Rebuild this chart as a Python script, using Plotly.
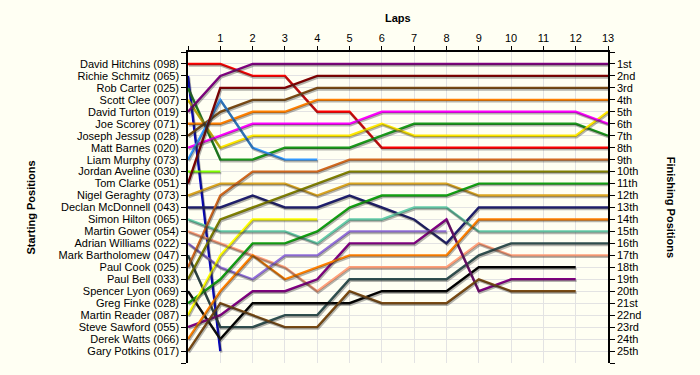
import plotly.graph_objects as go

laps = list(range(0, 14))
lap_ticks = list(range(0, 14))
lap_tick_text = [""] + [str(i) for i in range(1, 14)]

drivers = ["David Hitchins (098)", "Richie Schmitz (065)", "Rob Carter (025)", "Scott Clee (007)",
           "David Turton (019)", "Joe Scorey (071)", "Joseph Jessup (028)", "Matt Barnes (020)",
           "Liam Murphy (073)", "Jordan Aveline (030)", "Tom Clarke (051)", "Nigel Geraghty (073)",
           "Declan McDonnell (043)", "Simon Hilton (065)", "Martin Gower (054)", "Adrian Williams (022)",
           "Mark Bartholomew (047)", "Paul Cook (025)", "Paul Bell (033)", "Spencer Lyon (069)",
           "Greg Finke (028)", "Martin Reader (087)", "Steve Sawford (055)", "Derek Watts (066)",
           "Gary Potkins (017)"]

finish_labels = ["1st", "2nd", "3rd", "4th", "5th", "6th", "7th", "8th", "9th", "10th", "11th", "12th",
                 "13th", "14th", "15th", "16th", "17th", "18th", "19th", "20th", "21st", "22nd", "23rd",
                 "24th", "25th"]

# lap-by-lap positions (index = lap number, starting at lap 0)
pos_hitchins = [1, 1, 2, 2, 5, 5, 8, 8, 8, 8, 8, 8, 8, 8]
pos_schmitz = [2, 25]
pos_carter = [3, 9, 9, 8, 8, 8, 7, 6, 6, 6, 6, 6, 6, 7]
pos_clee = [4, 8, 7, 7, 7, 7, 6, 7, 7, 7, 7, 7, 7, 5]
pos_turton = [5, 2, 1, 1, 1, 1, 1, 1, 1, 1, 1, 1, 1, 1]
pos_scorey = [6, 6, 5, 5, 4, 4, 4, 4, 4, 4, 4, 4, 4, 4]
pos_jessup = [7, 5, 4, 4, 3, 3, 3, 3, 3, 3, 3, 3, 3, 3]
pos_barnes = [8, 7, 6, 6, 6, 6, 5, 5, 5, 5, 5, 5, 5, 6]
pos_murphy = [9, 4, 8, 9, 9]
pos_aveline = [10, 10]
pos_clarke = [11, 3, 3, 3, 2, 2, 2, 2, 2, 2, 2, 2, 2, 2]
pos_geraghty = [12, 11, 11, 11, 12, 11, 11, 11, 11, 12, 12, 12, 12, 12]
pos_mcdonnell = [13, 13, 12, 13, 13, 12, 13, 14, 16, 13, 13, 13, 13, 13]
pos_hilton = [14, 15, 15, 15, 16, 14, 14, 13, 13, 15, 15, 15, 15, 15]
pos_gower = [15, 16, 17, 18, 20, 18, 18, 18, 18, 16, 17, 17, 17, 17]
pos_williams = [16, 18, 19, 17, 17, 15, 15, 15, 15]
pos_bartholomew = [17, 23, 23, 22, 22, 19, 19, 19, 19, 17, 16, 16, 16, 16]
pos_cook = [18, 12, 10, 10, 10, 9, 9, 9, 9, 9, 9, 9, 9, 9]
pos_bell = [19, 14, 13, 12, 11, 10, 10, 10, 10, 10, 10, 10, 10, 10]
pos_lyon = [20, 24, 21, 21, 21, 21, 20, 20, 20, 18, 18, 18, 18]
pos_finke = [21, 19, 16, 16, 15, 13, 12, 12, 12, 11, 11, 11, 11, 11]
pos_reader = [22, 17, 14, 14, 14]
pos_sawford = [23, 22, 20, 20, 19, 16, 16, 16, 14, 20, 19, 19, 19]
pos_watts = [24, 20, 17, 19, 18, 17, 17, 17, 17, 14, 14, 14, 14, 14]
pos_potkins = [25, 21, 22, 23, 23, 20, 21, 21, 21, 19, 20, 20, 20]

positions = [pos_hitchins, pos_schmitz, pos_carter, pos_clee, pos_turton, pos_scorey, pos_jessup,
             pos_barnes, pos_murphy, pos_aveline, pos_clarke, pos_geraghty, pos_mcdonnell, pos_hilton,
             pos_gower, pos_williams, pos_bartholomew, pos_cook, pos_bell, pos_lyon, pos_finke,
             pos_reader, pos_sawford, pos_watts, pos_potkins]

colors = ["#FF0000", "#0000CC", "#1A9A1A", "#FFE800", "#800080", "#FF8000", "#7A4A12", "#FF00FF",
          "#3399FF", "#80FF00", "#800000", "#DAA520", "#1E1E6E", "#66CDAA", "#FFA07A", "#9370DB",
          "#2F4F4F", "#D2691E", "#808000", "#000000", "#12A012", "#FFFF00", "#800080", "#FF8000",
          "#7A4A12"]

BG = "#FFFFF3"
FONT = "Liberation Sans, Arial, sans-serif"

fig = go.Figure()

# shadows (drawn on slightly shifted overlay axes)
for p in positions:
    fig.add_trace(go.Scatter(x=laps[:len(p)], y=p, mode="lines", xaxis="x2", yaxis="y3",
                             line=dict(color="rgba(40,40,40,0.35)", width=2.4),
                             hoverinfo="skip", showlegend=False))

for name, p, c in zip(drivers, positions, colors):
    fig.add_trace(go.Scatter(x=laps[:len(p)], y=p, mode="lines", name=name,
                             line=dict(color=c, width=2.4), showlegend=False))

# invisible trace for the right axis
fig.add_trace(go.Scatter(x=[None], y=[None], yaxis="y2", showlegend=False, hoverinfo="skip"))

ytick_vals = list(range(0, 27))
left_text = [""] + drivers + [""]
right_text = [""] + finish_labels + [""]

fig.update_layout(
    width=700, height=375,
    margin=dict(l=188, r=92, t=52, b=12),
    paper_bgcolor=BG, plot_bgcolor=BG,
    font=dict(family=FONT, size=11, color="#000000"),
    xaxis=dict(range=[0, 13], side="top", tickvals=lap_ticks, ticktext=lap_tick_text,
               showgrid=True, gridcolor="#E3E3E3", gridwidth=1, zeroline=False, automargin=False,
               showline=True, linecolor="#000000", linewidth=1.5,
               ticks="outside", ticklen=4, tickcolor="#000000", tickfont=dict(size=11)),
    yaxis=dict(range=[26, 0], tickvals=ytick_vals, ticktext=left_text, automargin=False,
               showgrid=True, gridcolor="#E3E3E3", gridwidth=1, zeroline=False,
               showline=True, linecolor="#000000", linewidth=1.5,
               ticks="outside", ticklen=5, tickcolor="#000000", tickfont=dict(size=11)),
    yaxis2=dict(range=[26, 0], tickvals=ytick_vals, ticktext=right_text, overlaying="y", side="right",
                showgrid=False, zeroline=False, showline=True, linecolor="#000000", linewidth=1.5,
                automargin=False,
                ticks="outside", ticklen=5, tickcolor="#000000", tickfont=dict(size=11)),
    xaxis2=dict(range=[-0.03, 12.97], overlaying="x", visible=False, automargin=False),
    yaxis3=dict(range=[26 - 0.13, -0.13], overlaying="y", visible=False, automargin=False),
    annotations=[
        dict(text="<b>Laps</b>", xref="paper", yref="paper", x=0.5, y=1.109, showarrow=False,
             font=dict(size=11), xanchor="center", yanchor="middle"),
        dict(text="<b>Starting Positions</b>", xref="paper", yref="paper", x=-0.376, y=0.5,
             textangle=-90, showarrow=False, font=dict(size=11), xanchor="center", yanchor="middle"),
        dict(text="<b>Finishing Positions</b>", xref="paper", yref="paper", x=1.152, y=0.5,
             textangle=90, showarrow=False, font=dict(size=11), xanchor="center", yanchor="middle"),
    ],
)

fig.write_html("out.html", config={"displayModeBar": False},
               post_script="document.body.style.margin='0';document.body.style.background='%s';" % BG)
